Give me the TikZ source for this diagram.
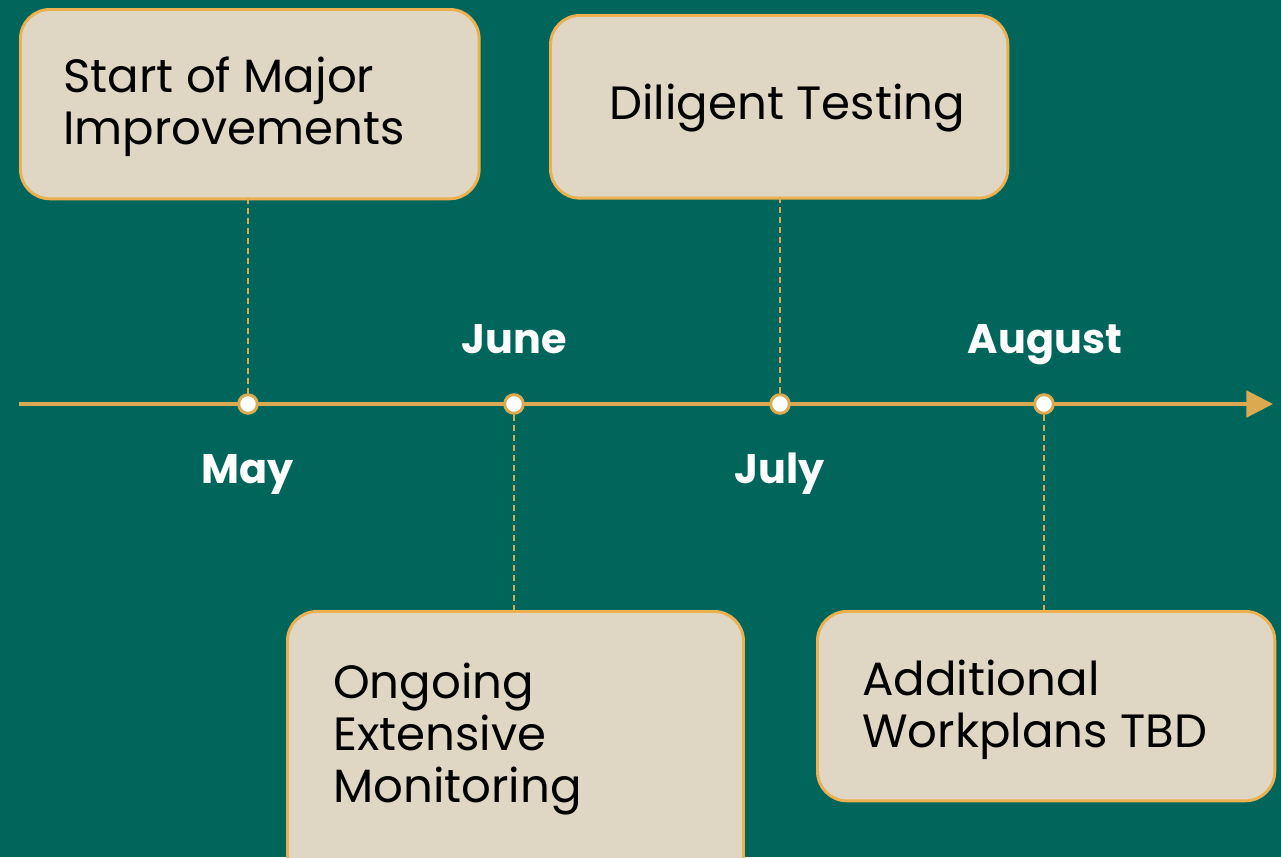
\documentclass[tikz,border=0pt]{standalone}
\usepackage{fontspec}
\setmainfont{Poppins}
\usetikzlibrary{arrows.meta}
\definecolor{bg}{HTML}{00665C}
\definecolor{boxfill}{HTML}{DFD6C4}
\definecolor{boxline}{HTML}{EDB04E}
\definecolor{axis}{HTML}{DBA94F}
\begin{document}
\begin{tikzpicture}[x=0.75pt,y=-0.75pt,
  eventbox/.style={draw=boxline,line width=2.2pt,fill=boxfill,rounded corners=22pt},
  boxtext/.style={anchor=north west,align=left,font=\fontsize{35}{39}\selectfont,text=black,inner sep=0pt},
  month/.style={anchor=base,font=\fontsize{31}{34}\bfseries\selectfont,text=white,inner sep=0pt},
  dot/.style={circle,draw=axis,fill=white,line width=2.2pt,minimum size=14pt,inner sep=0pt},
  leader/.style={draw=axis,line width=1pt,dash pattern=on 4.5pt off 3pt}]
\fill[bg] (0,0) rectangle (1281,857);
\useasboundingbox (0,0) rectangle (1281,857);
% boxes
\node[eventbox,minimum width=344pt,minimum height=142pt,anchor=north west] (b1) at (19,8) {};
\node[eventbox,minimum width=343pt,minimum height=137pt,anchor=north west] (b2) at (549,14) {};
\node[eventbox,minimum width=342pt,minimum height=210pt,anchor=north west] (b3) at (286,610) {};
\node[eventbox,minimum width=343pt,minimum height=142pt,anchor=north west] (b4) at (816,610) {};
% texts
\node[boxtext] (t1) at (63,57) {Start of Major\\Improvements};
\node[boxtext] (t2) at (609,84) {Diligent Testing};
\node[boxtext] (t3) at (333,663) {Ongoing\\Extensive\\Monitoring};
\node[boxtext] (t4) at (862,660) {Additional\\Workplans TBD};
% axis
\coordinate (a0) at (19,404);
\coordinate (a1) at (1273,404);
\draw[axis,line width=2.3pt,-{Triangle[length=20pt,width=20pt]}] (a0) -- (a1);
% dots
\node[dot] (d1) at (248,404) {};
\node[dot] (d2) at (514,404) {};
\node[dot] (d3) at (780,404) {};
\node[dot] (d4) at (1044,404) {};
% leaders
\coordinate (c1) at (248,198);
\coordinate (c2) at (514,610);
\coordinate (c3) at (780,197);
\coordinate (c4) at (1044,610);
\draw[leader] (c1) -- (d1.north);
\draw[leader] (d2.south) -- (c2);
\draw[leader] (c3) -- (d3.north);
\draw[leader] (d4.south) -- (c4);
% months
\node[month] (m1) at (248,483) {May};
\node[month] (m2) at (514,353) {June};
\node[month] (m3) at (780,483) {July};
\node[month] (m4) at (1045,353) {August};
\end{tikzpicture}
\end{document}
